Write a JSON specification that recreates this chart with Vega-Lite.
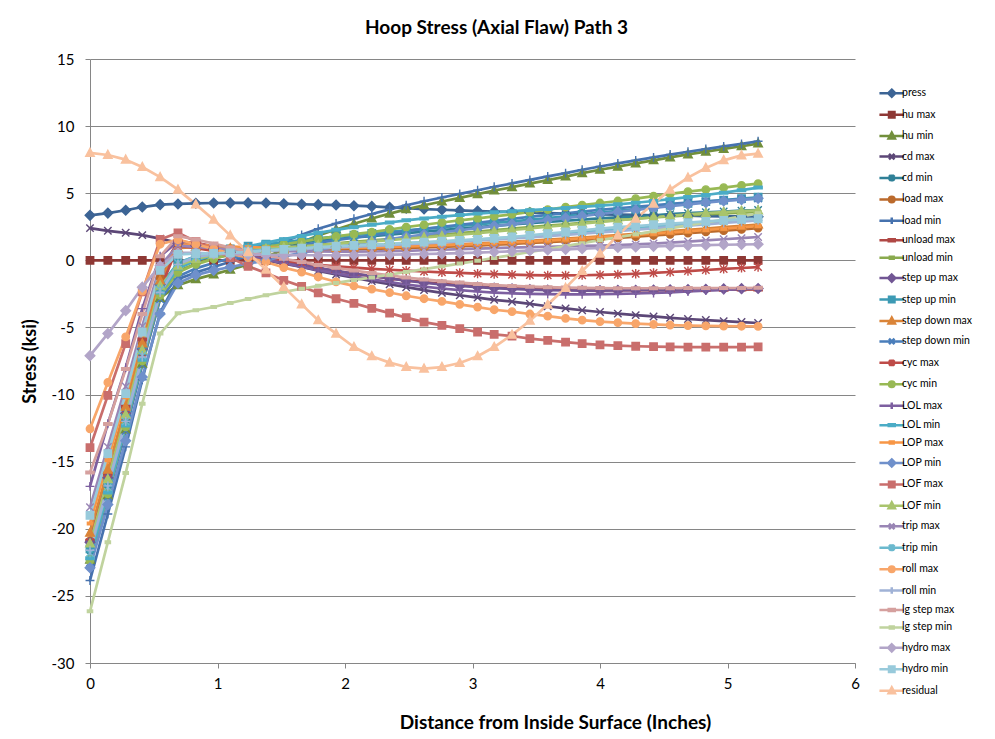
{
  "$schema": "https://vega.github.io/schema/vega-lite/v6.json",
  "width": 765,
  "height": 604,
  "autosize": {"type": "none"},
  "padding": {"left": 90, "top": 59, "right": 140, "bottom": 76},
  "background": "white",
  "config": {"font": "Lato", "view": {"stroke": null}},
  "title": {"text": "Hoop Stress (Axial Flaw) Path 3", "font": "Lato", "fontSize": 19, "fontWeight": "bold", "color": "#000000", "anchor": "middle", "dx": 24, "offset": 14},
  "data": {"values": [
{"s":"press","x":0,"y":3.35},{"s":"press","x":0.14,"y":3.52},{"s":"press","x":0.28,"y":3.73},{"s":"press","x":0.41,"y":3.97},{"s":"press","x":0.55,"y":4.15},{"s":"press","x":0.69,"y":4.2},{"s":"press","x":0.83,"y":4.25},{"s":"press","x":0.97,"y":4.27},{"s":"press","x":1.1,"y":4.28},{"s":"press","x":1.24,"y":4.28},{"s":"press","x":1.38,"y":4.27},{"s":"press","x":1.52,"y":4.22},{"s":"press","x":1.66,"y":4.18},{"s":"press","x":1.79,"y":4.15},{"s":"press","x":1.93,"y":4.12},{"s":"press","x":2.07,"y":4.07},{"s":"press","x":2.21,"y":4.02},{"s":"press","x":2.35,"y":3.95},{"s":"press","x":2.48,"y":3.88},{"s":"press","x":2.62,"y":3.82},{"s":"press","x":2.76,"y":3.77},{"s":"press","x":2.9,"y":3.72},{"s":"press","x":3.04,"y":3.67},{"s":"press","x":3.17,"y":3.63},{"s":"press","x":3.31,"y":3.6},{"s":"press","x":3.45,"y":3.56},{"s":"press","x":3.59,"y":3.52},{"s":"press","x":3.73,"y":3.49},{"s":"press","x":3.86,"y":3.46},{"s":"press","x":4,"y":3.43},{"s":"press","x":4.14,"y":3.4},{"s":"press","x":4.28,"y":3.38},{"s":"press","x":4.42,"y":3.36},{"s":"press","x":4.55,"y":3.34},{"s":"press","x":4.69,"y":3.32},{"s":"press","x":4.83,"y":3.3},{"s":"press","x":4.97,"y":3.28},{"s":"press","x":5.11,"y":3.27},{"s":"press","x":5.24,"y":3.25},
{"s":"hu max","x":0,"y":0},{"s":"hu max","x":0.14,"y":0},{"s":"hu max","x":0.28,"y":0},{"s":"hu max","x":0.41,"y":0},{"s":"hu max","x":0.55,"y":0},{"s":"hu max","x":0.69,"y":0},{"s":"hu max","x":0.83,"y":0},{"s":"hu max","x":0.97,"y":0},{"s":"hu max","x":1.1,"y":0},{"s":"hu max","x":1.24,"y":0},{"s":"hu max","x":1.38,"y":0},{"s":"hu max","x":1.52,"y":0},{"s":"hu max","x":1.66,"y":0},{"s":"hu max","x":1.79,"y":0},{"s":"hu max","x":1.93,"y":0},{"s":"hu max","x":2.07,"y":0},{"s":"hu max","x":2.21,"y":0},{"s":"hu max","x":2.35,"y":0},{"s":"hu max","x":2.48,"y":0},{"s":"hu max","x":2.62,"y":0},{"s":"hu max","x":2.76,"y":0},{"s":"hu max","x":2.9,"y":0},{"s":"hu max","x":3.04,"y":0},{"s":"hu max","x":3.17,"y":0},{"s":"hu max","x":3.31,"y":0},{"s":"hu max","x":3.45,"y":0},{"s":"hu max","x":3.59,"y":0},{"s":"hu max","x":3.73,"y":0},{"s":"hu max","x":3.86,"y":0},{"s":"hu max","x":4,"y":0},{"s":"hu max","x":4.14,"y":0},{"s":"hu max","x":4.28,"y":0},{"s":"hu max","x":4.42,"y":0},{"s":"hu max","x":4.55,"y":0},{"s":"hu max","x":4.69,"y":0},{"s":"hu max","x":4.83,"y":0},{"s":"hu max","x":4.97,"y":0},{"s":"hu max","x":5.11,"y":0},{"s":"hu max","x":5.24,"y":0},
{"s":"hu min","x":0,"y":-22.3},{"s":"hu min","x":0.14,"y":-17.5},{"s":"hu min","x":0.28,"y":-12.6},{"s":"hu min","x":0.41,"y":-7.7},{"s":"hu min","x":0.55,"y":-2.8},{"s":"hu min","x":0.69,"y":-1.85},{"s":"hu min","x":0.83,"y":-1.4},{"s":"hu min","x":0.97,"y":-1.05},{"s":"hu min","x":1.1,"y":-0.7},{"s":"hu min","x":1.24,"y":-0.3},{"s":"hu min","x":1.38,"y":0.25},{"s":"hu min","x":1.52,"y":0.8},{"s":"hu min","x":1.66,"y":1.35},{"s":"hu min","x":1.79,"y":1.85},{"s":"hu min","x":1.93,"y":2.3},{"s":"hu min","x":2.07,"y":2.72},{"s":"hu min","x":2.21,"y":3.12},{"s":"hu min","x":2.35,"y":3.48},{"s":"hu min","x":2.48,"y":3.8},{"s":"hu min","x":2.62,"y":4.1},{"s":"hu min","x":2.76,"y":4.38},{"s":"hu min","x":2.9,"y":4.65},{"s":"hu min","x":3.04,"y":4.93},{"s":"hu min","x":3.17,"y":5.2},{"s":"hu min","x":3.31,"y":5.45},{"s":"hu min","x":3.45,"y":5.72},{"s":"hu min","x":3.59,"y":5.98},{"s":"hu min","x":3.73,"y":6.24},{"s":"hu min","x":3.86,"y":6.5},{"s":"hu min","x":4,"y":6.75},{"s":"hu min","x":4.14,"y":6.98},{"s":"hu min","x":4.28,"y":7.22},{"s":"hu min","x":4.42,"y":7.45},{"s":"hu min","x":4.55,"y":7.67},{"s":"hu min","x":4.69,"y":7.89},{"s":"hu min","x":4.83,"y":8.1},{"s":"hu min","x":4.97,"y":8.3},{"s":"hu min","x":5.11,"y":8.5},{"s":"hu min","x":5.24,"y":8.7},
{"s":"cd max","x":0,"y":2.4},{"s":"cd max","x":0.14,"y":2.2},{"s":"cd max","x":0.28,"y":2.05},{"s":"cd max","x":0.41,"y":1.88},{"s":"cd max","x":0.55,"y":1.62},{"s":"cd max","x":0.69,"y":1.3},{"s":"cd max","x":0.83,"y":1.0},{"s":"cd max","x":0.97,"y":0.75},{"s":"cd max","x":1.1,"y":0.5},{"s":"cd max","x":1.24,"y":0.25},{"s":"cd max","x":1.38,"y":0},{"s":"cd max","x":1.52,"y":-0.25},{"s":"cd max","x":1.66,"y":-0.5},{"s":"cd max","x":1.79,"y":-0.78},{"s":"cd max","x":1.93,"y":-1.05},{"s":"cd max","x":2.07,"y":-1.3},{"s":"cd max","x":2.21,"y":-1.55},{"s":"cd max","x":2.35,"y":-1.78},{"s":"cd max","x":2.48,"y":-2.0},{"s":"cd max","x":2.62,"y":-2.22},{"s":"cd max","x":2.76,"y":-2.42},{"s":"cd max","x":2.9,"y":-2.6},{"s":"cd max","x":3.04,"y":-2.78},{"s":"cd max","x":3.17,"y":-2.94},{"s":"cd max","x":3.31,"y":-3.08},{"s":"cd max","x":3.45,"y":-3.24},{"s":"cd max","x":3.59,"y":-3.42},{"s":"cd max","x":3.73,"y":-3.58},{"s":"cd max","x":3.86,"y":-3.72},{"s":"cd max","x":4,"y":-3.85},{"s":"cd max","x":4.14,"y":-3.97},{"s":"cd max","x":4.28,"y":-4.08},{"s":"cd max","x":4.42,"y":-4.18},{"s":"cd max","x":4.55,"y":-4.28},{"s":"cd max","x":4.69,"y":-4.37},{"s":"cd max","x":4.83,"y":-4.45},{"s":"cd max","x":4.97,"y":-4.53},{"s":"cd max","x":5.11,"y":-4.6},{"s":"cd max","x":5.24,"y":-4.67},
{"s":"cd min","x":0,"y":-22.0},{"s":"cd min","x":0.14,"y":-17.1},{"s":"cd min","x":0.28,"y":-12.2},{"s":"cd min","x":0.41,"y":-7.3},{"s":"cd min","x":0.55,"y":-2.4},{"s":"cd min","x":0.69,"y":-0.6},{"s":"cd min","x":0.83,"y":0},{"s":"cd min","x":0.97,"y":0.35},{"s":"cd min","x":1.1,"y":0.62},{"s":"cd min","x":1.24,"y":0.85},{"s":"cd min","x":1.38,"y":1.03},{"s":"cd min","x":1.52,"y":1.19},{"s":"cd min","x":1.66,"y":1.33},{"s":"cd min","x":1.79,"y":1.46},{"s":"cd min","x":1.93,"y":1.58},{"s":"cd min","x":2.07,"y":1.7},{"s":"cd min","x":2.21,"y":1.81},{"s":"cd min","x":2.35,"y":1.92},{"s":"cd min","x":2.48,"y":2.03},{"s":"cd min","x":2.62,"y":2.14},{"s":"cd min","x":2.76,"y":2.25},{"s":"cd min","x":2.9,"y":2.36},{"s":"cd min","x":3.04,"y":2.47},{"s":"cd min","x":3.17,"y":2.57},{"s":"cd min","x":3.31,"y":2.67},{"s":"cd min","x":3.45,"y":2.77},{"s":"cd min","x":3.59,"y":2.86},{"s":"cd min","x":3.73,"y":2.95},{"s":"cd min","x":3.86,"y":3.04},{"s":"cd min","x":4,"y":3.12},{"s":"cd min","x":4.14,"y":3.2},{"s":"cd min","x":4.28,"y":3.28},{"s":"cd min","x":4.42,"y":3.36},{"s":"cd min","x":4.55,"y":3.44},{"s":"cd min","x":4.69,"y":3.51},{"s":"cd min","x":4.83,"y":3.58},{"s":"cd min","x":4.97,"y":3.64},{"s":"cd min","x":5.11,"y":3.7},{"s":"cd min","x":5.24,"y":3.75},
{"s":"load max","x":0,"y":-20.9},{"s":"load max","x":0.14,"y":-16.0},{"s":"load max","x":0.28,"y":-11.1},{"s":"load max","x":0.41,"y":-6.2},{"s":"load max","x":0.55,"y":-1.3},{"s":"load max","x":0.69,"y":1.3},{"s":"load max","x":0.83,"y":1.1},{"s":"load max","x":0.97,"y":0.95},{"s":"load max","x":1.1,"y":0.85},{"s":"load max","x":1.24,"y":0.8},{"s":"load max","x":1.38,"y":0.78},{"s":"load max","x":1.52,"y":0.77},{"s":"load max","x":1.66,"y":0.77},{"s":"load max","x":1.79,"y":0.78},{"s":"load max","x":1.93,"y":0.8},{"s":"load max","x":2.07,"y":0.82},{"s":"load max","x":2.21,"y":0.85},{"s":"load max","x":2.35,"y":0.88},{"s":"load max","x":2.48,"y":0.92},{"s":"load max","x":2.62,"y":0.96},{"s":"load max","x":2.76,"y":1.0},{"s":"load max","x":2.9,"y":1.05},{"s":"load max","x":3.04,"y":1.1},{"s":"load max","x":3.17,"y":1.16},{"s":"load max","x":3.31,"y":1.22},{"s":"load max","x":3.45,"y":1.29},{"s":"load max","x":3.59,"y":1.36},{"s":"load max","x":3.73,"y":1.43},{"s":"load max","x":3.86,"y":1.51},{"s":"load max","x":4,"y":1.59},{"s":"load max","x":4.14,"y":1.67},{"s":"load max","x":4.28,"y":1.76},{"s":"load max","x":4.42,"y":1.85},{"s":"load max","x":4.55,"y":1.94},{"s":"load max","x":4.69,"y":2.03},{"s":"load max","x":4.83,"y":2.12},{"s":"load max","x":4.97,"y":2.21},{"s":"load max","x":5.11,"y":2.3},{"s":"load max","x":5.24,"y":2.4},
{"s":"load min","x":0,"y":-23.85},{"s":"load min","x":0.14,"y":-18.9},{"s":"load min","x":0.28,"y":-13.9},{"s":"load min","x":0.41,"y":-8.9},{"s":"load min","x":0.55,"y":-3.9},{"s":"load min","x":0.69,"y":-1.4},{"s":"load min","x":0.83,"y":-0.9},{"s":"load min","x":0.97,"y":-0.5},{"s":"load min","x":1.1,"y":-0.1},{"s":"load min","x":1.24,"y":0.35},{"s":"load min","x":1.38,"y":0.85},{"s":"load min","x":1.52,"y":1.38},{"s":"load min","x":1.66,"y":1.9},{"s":"load min","x":1.79,"y":2.35},{"s":"load min","x":1.93,"y":2.75},{"s":"load min","x":2.07,"y":3.1},{"s":"load min","x":2.21,"y":3.45},{"s":"load min","x":2.35,"y":3.8},{"s":"load min","x":2.48,"y":4.1},{"s":"load min","x":2.62,"y":4.4},{"s":"load min","x":2.76,"y":4.68},{"s":"load min","x":2.9,"y":4.95},{"s":"load min","x":3.04,"y":5.22},{"s":"load min","x":3.17,"y":5.48},{"s":"load min","x":3.31,"y":5.73},{"s":"load min","x":3.45,"y":5.99},{"s":"load min","x":3.59,"y":6.25},{"s":"load min","x":3.73,"y":6.5},{"s":"load min","x":3.86,"y":6.75},{"s":"load min","x":4,"y":6.99},{"s":"load min","x":4.14,"y":7.22},{"s":"load min","x":4.28,"y":7.45},{"s":"load min","x":4.42,"y":7.67},{"s":"load min","x":4.55,"y":7.88},{"s":"load min","x":4.69,"y":8.09},{"s":"load min","x":4.83,"y":8.29},{"s":"load min","x":4.97,"y":8.49},{"s":"load min","x":5.11,"y":8.68},{"s":"load min","x":5.24,"y":8.87},
{"s":"unload max","x":0,"y":-20.9},{"s":"unload max","x":0.14,"y":-15.9},{"s":"unload max","x":0.28,"y":-10.9},{"s":"unload max","x":0.41,"y":-5.9},{"s":"unload max","x":0.55,"y":-0.9},{"s":"unload max","x":0.69,"y":1.4},{"s":"unload max","x":0.83,"y":1.3},{"s":"unload max","x":0.97,"y":1.05},{"s":"unload max","x":1.1,"y":0.75},{"s":"unload max","x":1.24,"y":0.45},{"s":"unload max","x":1.38,"y":0.17},{"s":"unload max","x":1.52,"y":-0.1},{"s":"unload max","x":1.66,"y":-0.35},{"s":"unload max","x":1.79,"y":-0.58},{"s":"unload max","x":1.93,"y":-0.8},{"s":"unload max","x":2.07,"y":-1.0},{"s":"unload max","x":2.21,"y":-1.18},{"s":"unload max","x":2.35,"y":-1.35},{"s":"unload max","x":2.48,"y":-1.5},{"s":"unload max","x":2.62,"y":-1.63},{"s":"unload max","x":2.76,"y":-1.75},{"s":"unload max","x":2.9,"y":-1.85},{"s":"unload max","x":3.04,"y":-1.94},{"s":"unload max","x":3.17,"y":-2.01},{"s":"unload max","x":3.31,"y":-2.07},{"s":"unload max","x":3.45,"y":-2.12},{"s":"unload max","x":3.59,"y":-2.16},{"s":"unload max","x":3.73,"y":-2.19},{"s":"unload max","x":3.86,"y":-2.21},{"s":"unload max","x":4,"y":-2.22},{"s":"unload max","x":4.14,"y":-2.23},{"s":"unload max","x":4.28,"y":-2.23},{"s":"unload max","x":4.42,"y":-2.23},{"s":"unload max","x":4.55,"y":-2.22},{"s":"unload max","x":4.69,"y":-2.21},{"s":"unload max","x":4.83,"y":-2.2},{"s":"unload max","x":4.97,"y":-2.19},{"s":"unload max","x":5.11,"y":-2.18},{"s":"unload max","x":5.24,"y":-2.17},
{"s":"unload min","x":0,"y":-22.1},{"s":"unload min","x":0.14,"y":-17.2},{"s":"unload min","x":0.28,"y":-12.3},{"s":"unload min","x":0.41,"y":-7.4},{"s":"unload min","x":0.55,"y":-2.5},{"s":"unload min","x":0.69,"y":-0.8},{"s":"unload min","x":0.83,"y":-0.25},{"s":"unload min","x":0.97,"y":0.15},{"s":"unload min","x":1.1,"y":0.42},{"s":"unload min","x":1.24,"y":0.62},{"s":"unload min","x":1.38,"y":0.78},{"s":"unload min","x":1.52,"y":0.92},{"s":"unload min","x":1.66,"y":1.04},{"s":"unload min","x":1.79,"y":1.15},{"s":"unload min","x":1.93,"y":1.26},{"s":"unload min","x":2.07,"y":1.37},{"s":"unload min","x":2.21,"y":1.48},{"s":"unload min","x":2.35,"y":1.59},{"s":"unload min","x":2.48,"y":1.7},{"s":"unload min","x":2.62,"y":1.81},{"s":"unload min","x":2.76,"y":1.92},{"s":"unload min","x":2.9,"y":2.03},{"s":"unload min","x":3.04,"y":2.14},{"s":"unload min","x":3.17,"y":2.25},{"s":"unload min","x":3.31,"y":2.36},{"s":"unload min","x":3.45,"y":2.47},{"s":"unload min","x":3.59,"y":2.58},{"s":"unload min","x":3.73,"y":2.69},{"s":"unload min","x":3.86,"y":2.8},{"s":"unload min","x":4,"y":2.9},{"s":"unload min","x":4.14,"y":3.0},{"s":"unload min","x":4.28,"y":3.1},{"s":"unload min","x":4.42,"y":3.19},{"s":"unload min","x":4.55,"y":3.27},{"s":"unload min","x":4.69,"y":3.35},{"s":"unload min","x":4.83,"y":3.42},{"s":"unload min","x":4.97,"y":3.49},{"s":"unload min","x":5.11,"y":3.55},{"s":"unload min","x":5.24,"y":3.6},
{"s":"step up max","x":0,"y":-21.0},{"s":"step up max","x":0.14,"y":-16.2},{"s":"step up max","x":0.28,"y":-11.4},{"s":"step up max","x":0.41,"y":-6.6},{"s":"step up max","x":0.55,"y":-1.8},{"s":"step up max","x":0.69,"y":1.25},{"s":"step up max","x":0.83,"y":1.1},{"s":"step up max","x":0.97,"y":0.85},{"s":"step up max","x":1.1,"y":0.6},{"s":"step up max","x":1.24,"y":0.35},{"s":"step up max","x":1.38,"y":0.1},{"s":"step up max","x":1.52,"y":-0.12},{"s":"step up max","x":1.66,"y":-0.35},{"s":"step up max","x":1.79,"y":-0.57},{"s":"step up max","x":1.93,"y":-0.78},{"s":"step up max","x":2.07,"y":-0.98},{"s":"step up max","x":2.21,"y":-1.17},{"s":"step up max","x":2.35,"y":-1.35},{"s":"step up max","x":2.48,"y":-1.52},{"s":"step up max","x":2.62,"y":-1.67},{"s":"step up max","x":2.76,"y":-1.8},{"s":"step up max","x":2.9,"y":-1.91},{"s":"step up max","x":3.04,"y":-2.0},{"s":"step up max","x":3.17,"y":-2.07},{"s":"step up max","x":3.31,"y":-2.13},{"s":"step up max","x":3.45,"y":-2.18},{"s":"step up max","x":3.59,"y":-2.22},{"s":"step up max","x":3.73,"y":-2.24},{"s":"step up max","x":3.86,"y":-2.25},{"s":"step up max","x":4,"y":-2.25},{"s":"step up max","x":4.14,"y":-2.24},{"s":"step up max","x":4.28,"y":-2.23},{"s":"step up max","x":4.42,"y":-2.21},{"s":"step up max","x":4.55,"y":-2.19},{"s":"step up max","x":4.69,"y":-2.17},{"s":"step up max","x":4.83,"y":-2.15},{"s":"step up max","x":4.97,"y":-2.13},{"s":"step up max","x":5.11,"y":-2.11},{"s":"step up max","x":5.24,"y":-2.1},
{"s":"step up min","x":0,"y":-21.5},{"s":"step up min","x":0.14,"y":-16.6},{"s":"step up min","x":0.28,"y":-11.7},{"s":"step up min","x":0.41,"y":-6.8},{"s":"step up min","x":0.55,"y":-1.9},{"s":"step up min","x":0.69,"y":-0.2},{"s":"step up min","x":0.83,"y":0.3},{"s":"step up min","x":0.97,"y":0.6},{"s":"step up min","x":1.1,"y":0.85},{"s":"step up min","x":1.24,"y":1.05},{"s":"step up min","x":1.38,"y":1.2},{"s":"step up min","x":1.52,"y":1.35},{"s":"step up min","x":1.66,"y":1.5},{"s":"step up min","x":1.79,"y":1.63},{"s":"step up min","x":1.93,"y":1.76},{"s":"step up min","x":2.07,"y":1.88},{"s":"step up min","x":2.21,"y":2.0},{"s":"step up min","x":2.35,"y":2.12},{"s":"step up min","x":2.48,"y":2.23},{"s":"step up min","x":2.62,"y":2.35},{"s":"step up min","x":2.76,"y":2.46},{"s":"step up min","x":2.9,"y":2.57},{"s":"step up min","x":3.04,"y":2.68},{"s":"step up min","x":3.17,"y":2.79},{"s":"step up min","x":3.31,"y":2.9},{"s":"step up min","x":3.45,"y":3.02},{"s":"step up min","x":3.59,"y":3.15},{"s":"step up min","x":3.73,"y":3.28},{"s":"step up min","x":3.86,"y":3.42},{"s":"step up min","x":4,"y":3.55},{"s":"step up min","x":4.14,"y":3.68},{"s":"step up min","x":4.28,"y":3.82},{"s":"step up min","x":4.42,"y":3.96},{"s":"step up min","x":4.55,"y":4.1},{"s":"step up min","x":4.69,"y":4.24},{"s":"step up min","x":4.83,"y":4.37},{"s":"step up min","x":4.97,"y":4.49},{"s":"step up min","x":5.11,"y":4.6},{"s":"step up min","x":5.24,"y":4.7},
{"s":"step down max","x":0,"y":-20.3},{"s":"step down max","x":0.14,"y":-15.6},{"s":"step down max","x":0.28,"y":-10.9},{"s":"step down max","x":0.41,"y":-6.2},{"s":"step down max","x":0.55,"y":-1.5},{"s":"step down max","x":0.69,"y":0.9},{"s":"step down max","x":0.83,"y":1.0},{"s":"step down max","x":0.97,"y":0.95},{"s":"step down max","x":1.1,"y":0.9},{"s":"step down max","x":1.24,"y":0.88},{"s":"step down max","x":1.38,"y":0.87},{"s":"step down max","x":1.52,"y":0.87},{"s":"step down max","x":1.66,"y":0.88},{"s":"step down max","x":1.79,"y":0.9},{"s":"step down max","x":1.93,"y":0.92},{"s":"step down max","x":2.07,"y":0.95},{"s":"step down max","x":2.21,"y":0.98},{"s":"step down max","x":2.35,"y":1.02},{"s":"step down max","x":2.48,"y":1.06},{"s":"step down max","x":2.62,"y":1.1},{"s":"step down max","x":2.76,"y":1.15},{"s":"step down max","x":2.9,"y":1.2},{"s":"step down max","x":3.04,"y":1.26},{"s":"step down max","x":3.17,"y":1.32},{"s":"step down max","x":3.31,"y":1.39},{"s":"step down max","x":3.45,"y":1.46},{"s":"step down max","x":3.59,"y":1.54},{"s":"step down max","x":3.73,"y":1.62},{"s":"step down max","x":3.86,"y":1.7},{"s":"step down max","x":4,"y":1.79},{"s":"step down max","x":4.14,"y":1.88},{"s":"step down max","x":4.28,"y":1.97},{"s":"step down max","x":4.42,"y":2.07},{"s":"step down max","x":4.55,"y":2.17},{"s":"step down max","x":4.69,"y":2.27},{"s":"step down max","x":4.83,"y":2.37},{"s":"step down max","x":4.97,"y":2.47},{"s":"step down max","x":5.11,"y":2.57},{"s":"step down max","x":5.24,"y":2.67},
{"s":"step down min","x":0,"y":-22.5},{"s":"step down min","x":0.14,"y":-17.6},{"s":"step down min","x":0.28,"y":-12.7},{"s":"step down min","x":0.41,"y":-7.8},{"s":"step down min","x":0.55,"y":-2.9},{"s":"step down min","x":0.69,"y":-1.2},{"s":"step down min","x":0.83,"y":-0.6},{"s":"step down min","x":0.97,"y":-0.2},{"s":"step down min","x":1.1,"y":0.15},{"s":"step down min","x":1.24,"y":0.45},{"s":"step down min","x":1.38,"y":0.7},{"s":"step down min","x":1.52,"y":0.92},{"s":"step down min","x":1.66,"y":1.12},{"s":"step down min","x":1.79,"y":1.32},{"s":"step down min","x":1.93,"y":1.5},{"s":"step down min","x":2.07,"y":1.68},{"s":"step down min","x":2.21,"y":1.85},{"s":"step down min","x":2.35,"y":2.02},{"s":"step down min","x":2.48,"y":2.18},{"s":"step down min","x":2.62,"y":2.34},{"s":"step down min","x":2.76,"y":2.5},{"s":"step down min","x":2.9,"y":2.65},{"s":"step down min","x":3.04,"y":2.8},{"s":"step down min","x":3.17,"y":2.95},{"s":"step down min","x":3.31,"y":3.1},{"s":"step down min","x":3.45,"y":3.24},{"s":"step down min","x":3.59,"y":3.38},{"s":"step down min","x":3.73,"y":3.51},{"s":"step down min","x":3.86,"y":3.64},{"s":"step down min","x":4,"y":3.76},{"s":"step down min","x":4.14,"y":3.88},{"s":"step down min","x":4.28,"y":3.99},{"s":"step down min","x":4.42,"y":4.1},{"s":"step down min","x":4.55,"y":4.2},{"s":"step down min","x":4.69,"y":4.3},{"s":"step down min","x":4.83,"y":4.39},{"s":"step down min","x":4.97,"y":4.47},{"s":"step down min","x":5.11,"y":4.54},{"s":"step down min","x":5.24,"y":4.6},
{"s":"cyc max","x":0,"y":-21.0},{"s":"cyc max","x":0.14,"y":-16.3},{"s":"cyc max","x":0.28,"y":-11.6},{"s":"cyc max","x":0.41,"y":-6.9},{"s":"cyc max","x":0.55,"y":-2.2},{"s":"cyc max","x":0.69,"y":1.1},{"s":"cyc max","x":0.83,"y":0.9},{"s":"cyc max","x":0.97,"y":0.7},{"s":"cyc max","x":1.1,"y":0.5},{"s":"cyc max","x":1.24,"y":0.3},{"s":"cyc max","x":1.38,"y":0.12},{"s":"cyc max","x":1.52,"y":-0.05},{"s":"cyc max","x":1.66,"y":-0.2},{"s":"cyc max","x":1.79,"y":-0.33},{"s":"cyc max","x":1.93,"y":-0.45},{"s":"cyc max","x":2.07,"y":-0.55},{"s":"cyc max","x":2.21,"y":-0.63},{"s":"cyc max","x":2.35,"y":-0.7},{"s":"cyc max","x":2.48,"y":-0.77},{"s":"cyc max","x":2.62,"y":-0.83},{"s":"cyc max","x":2.76,"y":-0.89},{"s":"cyc max","x":2.9,"y":-0.94},{"s":"cyc max","x":3.04,"y":-0.99},{"s":"cyc max","x":3.17,"y":-1.03},{"s":"cyc max","x":3.31,"y":-1.07},{"s":"cyc max","x":3.45,"y":-1.1},{"s":"cyc max","x":3.59,"y":-1.12},{"s":"cyc max","x":3.73,"y":-1.12},{"s":"cyc max","x":3.86,"y":-1.11},{"s":"cyc max","x":4,"y":-1.09},{"s":"cyc max","x":4.14,"y":-1.05},{"s":"cyc max","x":4.28,"y":-1.0},{"s":"cyc max","x":4.42,"y":-0.94},{"s":"cyc max","x":4.55,"y":-0.87},{"s":"cyc max","x":4.69,"y":-0.8},{"s":"cyc max","x":4.83,"y":-0.72},{"s":"cyc max","x":4.97,"y":-0.64},{"s":"cyc max","x":5.11,"y":-0.57},{"s":"cyc max","x":5.24,"y":-0.5},
{"s":"cyc min","x":0,"y":-22.35},{"s":"cyc min","x":0.14,"y":-17.4},{"s":"cyc min","x":0.28,"y":-12.4},{"s":"cyc min","x":0.41,"y":-7.5},{"s":"cyc min","x":0.55,"y":-2.6},{"s":"cyc min","x":0.69,"y":-0.9},{"s":"cyc min","x":0.83,"y":-0.3},{"s":"cyc min","x":0.97,"y":0.1},{"s":"cyc min","x":1.1,"y":0.45},{"s":"cyc min","x":1.24,"y":0.75},{"s":"cyc min","x":1.38,"y":1.0},{"s":"cyc min","x":1.52,"y":1.2},{"s":"cyc min","x":1.66,"y":1.4},{"s":"cyc min","x":1.79,"y":1.6},{"s":"cyc min","x":1.93,"y":1.78},{"s":"cyc min","x":2.07,"y":1.95},{"s":"cyc min","x":2.21,"y":2.1},{"s":"cyc min","x":2.35,"y":2.3},{"s":"cyc min","x":2.48,"y":2.48},{"s":"cyc min","x":2.62,"y":2.65},{"s":"cyc min","x":2.76,"y":2.82},{"s":"cyc min","x":2.9,"y":2.98},{"s":"cyc min","x":3.04,"y":3.12},{"s":"cyc min","x":3.17,"y":3.28},{"s":"cyc min","x":3.31,"y":3.42},{"s":"cyc min","x":3.45,"y":3.6},{"s":"cyc min","x":3.59,"y":3.78},{"s":"cyc min","x":3.73,"y":3.96},{"s":"cyc min","x":3.86,"y":4.12},{"s":"cyc min","x":4,"y":4.27},{"s":"cyc min","x":4.14,"y":4.42},{"s":"cyc min","x":4.28,"y":4.6},{"s":"cyc min","x":4.42,"y":4.78},{"s":"cyc min","x":4.55,"y":4.95},{"s":"cyc min","x":4.69,"y":5.12},{"s":"cyc min","x":4.83,"y":5.27},{"s":"cyc min","x":4.97,"y":5.42},{"s":"cyc min","x":5.11,"y":5.58},{"s":"cyc min","x":5.24,"y":5.71},
{"s":"LOL max","x":0,"y":-16.84},{"s":"LOL max","x":0.14,"y":-12.17},{"s":"LOL max","x":0.28,"y":-8.0},{"s":"LOL max","x":0.41,"y":-3.6},{"s":"LOL max","x":0.55,"y":0.3},{"s":"LOL max","x":0.69,"y":1.4},{"s":"LOL max","x":0.83,"y":1.15},{"s":"LOL max","x":0.97,"y":0.88},{"s":"LOL max","x":1.1,"y":0.6},{"s":"LOL max","x":1.24,"y":0.32},{"s":"LOL max","x":1.38,"y":0.05},{"s":"LOL max","x":1.52,"y":-0.22},{"s":"LOL max","x":1.66,"y":-0.48},{"s":"LOL max","x":1.79,"y":-0.73},{"s":"LOL max","x":1.93,"y":-0.97},{"s":"LOL max","x":2.07,"y":-1.2},{"s":"LOL max","x":2.21,"y":-1.42},{"s":"LOL max","x":2.35,"y":-1.62},{"s":"LOL max","x":2.48,"y":-1.8},{"s":"LOL max","x":2.62,"y":-1.96},{"s":"LOL max","x":2.76,"y":-2.1},{"s":"LOL max","x":2.9,"y":-2.22},{"s":"LOL max","x":3.04,"y":-2.32},{"s":"LOL max","x":3.17,"y":-2.4},{"s":"LOL max","x":3.31,"y":-2.46},{"s":"LOL max","x":3.45,"y":-2.5},{"s":"LOL max","x":3.59,"y":-2.52},{"s":"LOL max","x":3.73,"y":-2.53},{"s":"LOL max","x":3.86,"y":-2.53},{"s":"LOL max","x":4,"y":-2.52},{"s":"LOL max","x":4.14,"y":-2.5},{"s":"LOL max","x":4.28,"y":-2.47},{"s":"LOL max","x":4.42,"y":-2.43},{"s":"LOL max","x":4.55,"y":-2.38},{"s":"LOL max","x":4.69,"y":-2.32},{"s":"LOL max","x":4.83,"y":-2.26},{"s":"LOL max","x":4.97,"y":-2.2},{"s":"LOL max","x":5.11,"y":-2.15},{"s":"LOL max","x":5.24,"y":-2.1},
{"s":"LOL min","x":0,"y":-22.2},{"s":"LOL min","x":0.14,"y":-17.3},{"s":"LOL min","x":0.28,"y":-12.3},{"s":"LOL min","x":0.41,"y":-7.4},{"s":"LOL min","x":0.55,"y":-2.4},{"s":"LOL min","x":0.69,"y":-0.6},{"s":"LOL min","x":0.83,"y":0},{"s":"LOL min","x":0.97,"y":0.4},{"s":"LOL min","x":1.1,"y":0.75},{"s":"LOL min","x":1.24,"y":1.05},{"s":"LOL min","x":1.38,"y":1.32},{"s":"LOL min","x":1.52,"y":1.58},{"s":"LOL min","x":1.66,"y":1.82},{"s":"LOL min","x":1.79,"y":2.05},{"s":"LOL min","x":1.93,"y":2.27},{"s":"LOL min","x":2.07,"y":2.47},{"s":"LOL min","x":2.21,"y":2.65},{"s":"LOL min","x":2.35,"y":2.82},{"s":"LOL min","x":2.48,"y":2.98},{"s":"LOL min","x":2.62,"y":3.12},{"s":"LOL min","x":2.76,"y":3.25},{"s":"LOL min","x":2.9,"y":3.37},{"s":"LOL min","x":3.04,"y":3.48},{"s":"LOL min","x":3.17,"y":3.58},{"s":"LOL min","x":3.31,"y":3.66},{"s":"LOL min","x":3.45,"y":3.74},{"s":"LOL min","x":3.59,"y":3.82},{"s":"LOL min","x":3.73,"y":3.9},{"s":"LOL min","x":3.86,"y":3.98},{"s":"LOL min","x":4,"y":4.07},{"s":"LOL min","x":4.14,"y":4.17},{"s":"LOL min","x":4.28,"y":4.29},{"s":"LOL min","x":4.42,"y":4.42},{"s":"LOL min","x":4.55,"y":4.56},{"s":"LOL min","x":4.69,"y":4.71},{"s":"LOL min","x":4.83,"y":4.87},{"s":"LOL min","x":4.97,"y":5.04},{"s":"LOL min","x":5.11,"y":5.23},{"s":"LOL min","x":5.24,"y":5.42},
{"s":"LOP max","x":0,"y":-19.6},{"s":"LOP max","x":0.14,"y":-14.9},{"s":"LOP max","x":0.28,"y":-10.2},{"s":"LOP max","x":0.41,"y":-5.5},{"s":"LOP max","x":0.55,"y":-0.8},{"s":"LOP max","x":0.69,"y":1.2},{"s":"LOP max","x":0.83,"y":1.15},{"s":"LOP max","x":0.97,"y":1.08},{"s":"LOP max","x":1.1,"y":1.02},{"s":"LOP max","x":1.24,"y":0.98},{"s":"LOP max","x":1.38,"y":0.95},{"s":"LOP max","x":1.52,"y":0.93},{"s":"LOP max","x":1.66,"y":0.92},{"s":"LOP max","x":1.79,"y":0.92},{"s":"LOP max","x":1.93,"y":0.93},{"s":"LOP max","x":2.07,"y":0.95},{"s":"LOP max","x":2.21,"y":0.97},{"s":"LOP max","x":2.35,"y":1.0},{"s":"LOP max","x":2.48,"y":1.03},{"s":"LOP max","x":2.62,"y":1.07},{"s":"LOP max","x":2.76,"y":1.11},{"s":"LOP max","x":2.9,"y":1.16},{"s":"LOP max","x":3.04,"y":1.21},{"s":"LOP max","x":3.17,"y":1.27},{"s":"LOP max","x":3.31,"y":1.33},{"s":"LOP max","x":3.45,"y":1.4},{"s":"LOP max","x":3.59,"y":1.47},{"s":"LOP max","x":3.73,"y":1.55},{"s":"LOP max","x":3.86,"y":1.63},{"s":"LOP max","x":4,"y":1.71},{"s":"LOP max","x":4.14,"y":1.8},{"s":"LOP max","x":4.28,"y":1.89},{"s":"LOP max","x":4.42,"y":1.98},{"s":"LOP max","x":4.55,"y":2.07},{"s":"LOP max","x":4.69,"y":2.16},{"s":"LOP max","x":4.83,"y":2.26},{"s":"LOP max","x":4.97,"y":2.36},{"s":"LOP max","x":5.11,"y":2.46},{"s":"LOP max","x":5.24,"y":2.56},
{"s":"LOP min","x":0,"y":-22.9},{"s":"LOP min","x":0.14,"y":-18.2},{"s":"LOP min","x":0.28,"y":-13.45},{"s":"LOP min","x":0.41,"y":-8.7},{"s":"LOP min","x":0.55,"y":-4.0},{"s":"LOP min","x":0.69,"y":-1.7},{"s":"LOP min","x":0.83,"y":-1.1},{"s":"LOP min","x":0.97,"y":-0.75},{"s":"LOP min","x":1.1,"y":-0.5},{"s":"LOP min","x":1.24,"y":-0.25},{"s":"LOP min","x":1.38,"y":0},{"s":"LOP min","x":1.52,"y":0.3},{"s":"LOP min","x":1.66,"y":0.55},{"s":"LOP min","x":1.79,"y":0.78},{"s":"LOP min","x":1.93,"y":1.0},{"s":"LOP min","x":2.07,"y":1.2},{"s":"LOP min","x":2.21,"y":1.4},{"s":"LOP min","x":2.35,"y":1.58},{"s":"LOP min","x":2.48,"y":1.75},{"s":"LOP min","x":2.62,"y":1.92},{"s":"LOP min","x":2.76,"y":2.08},{"s":"LOP min","x":2.9,"y":2.24},{"s":"LOP min","x":3.04,"y":2.4},{"s":"LOP min","x":3.17,"y":2.55},{"s":"LOP min","x":3.31,"y":2.7},{"s":"LOP min","x":3.45,"y":2.85},{"s":"LOP min","x":3.59,"y":3.0},{"s":"LOP min","x":3.73,"y":3.15},{"s":"LOP min","x":3.86,"y":3.3},{"s":"LOP min","x":4,"y":3.45},{"s":"LOP min","x":4.14,"y":3.6},{"s":"LOP min","x":4.28,"y":3.75},{"s":"LOP min","x":4.42,"y":3.9},{"s":"LOP min","x":4.55,"y":4.04},{"s":"LOP min","x":4.69,"y":4.17},{"s":"LOP min","x":4.83,"y":4.3},{"s":"LOP min","x":4.97,"y":4.42},{"s":"LOP min","x":5.11,"y":4.52},{"s":"LOP min","x":5.24,"y":4.62},
{"s":"LOF max","x":0,"y":-13.96},{"s":"LOF max","x":0.14,"y":-10.06},{"s":"LOF max","x":0.28,"y":-6.2},{"s":"LOF max","x":0.41,"y":-2.35},{"s":"LOF max","x":0.55,"y":1.55},{"s":"LOF max","x":0.69,"y":2.05},{"s":"LOF max","x":0.83,"y":1.4},{"s":"LOF max","x":0.97,"y":0.8},{"s":"LOF max","x":1.1,"y":0.2},{"s":"LOF max","x":1.24,"y":-0.45},{"s":"LOF max","x":1.38,"y":-0.94},{"s":"LOF max","x":1.52,"y":-1.49},{"s":"LOF max","x":1.66,"y":-1.94},{"s":"LOF max","x":1.79,"y":-2.43},{"s":"LOF max","x":1.93,"y":-2.86},{"s":"LOF max","x":2.07,"y":-3.2},{"s":"LOF max","x":2.21,"y":-3.58},{"s":"LOF max","x":2.35,"y":-3.93},{"s":"LOF max","x":2.48,"y":-4.27},{"s":"LOF max","x":2.62,"y":-4.6},{"s":"LOF max","x":2.76,"y":-4.84},{"s":"LOF max","x":2.9,"y":-5.09},{"s":"LOF max","x":3.04,"y":-5.34},{"s":"LOF max","x":3.17,"y":-5.51},{"s":"LOF max","x":3.31,"y":-5.64},{"s":"LOF max","x":3.45,"y":-5.83},{"s":"LOF max","x":3.59,"y":-5.96},{"s":"LOF max","x":3.73,"y":-6.1},{"s":"LOF max","x":3.86,"y":-6.2},{"s":"LOF max","x":4,"y":-6.3},{"s":"LOF max","x":4.14,"y":-6.36},{"s":"LOF max","x":4.28,"y":-6.4},{"s":"LOF max","x":4.42,"y":-6.43},{"s":"LOF max","x":4.55,"y":-6.45},{"s":"LOF max","x":4.69,"y":-6.46},{"s":"LOF max","x":4.83,"y":-6.46},{"s":"LOF max","x":4.97,"y":-6.46},{"s":"LOF max","x":5.11,"y":-6.46},{"s":"LOF max","x":5.24,"y":-6.45},
{"s":"LOF min","x":0,"y":-21.1},{"s":"LOF min","x":0.14,"y":-16.3},{"s":"LOF min","x":0.28,"y":-11.5},{"s":"LOF min","x":0.41,"y":-6.7},{"s":"LOF min","x":0.55,"y":-1.9},{"s":"LOF min","x":0.69,"y":-0.4},{"s":"LOF min","x":0.83,"y":0.1},{"s":"LOF min","x":0.97,"y":0.4},{"s":"LOF min","x":1.1,"y":0.6},{"s":"LOF min","x":1.24,"y":0.74},{"s":"LOF min","x":1.38,"y":0.85},{"s":"LOF min","x":1.52,"y":0.95},{"s":"LOF min","x":1.66,"y":1.04},{"s":"LOF min","x":1.79,"y":1.13},{"s":"LOF min","x":1.93,"y":1.22},{"s":"LOF min","x":2.07,"y":1.31},{"s":"LOF min","x":2.21,"y":1.41},{"s":"LOF min","x":2.35,"y":1.51},{"s":"LOF min","x":2.48,"y":1.61},{"s":"LOF min","x":2.62,"y":1.71},{"s":"LOF min","x":2.76,"y":1.81},{"s":"LOF min","x":2.9,"y":1.92},{"s":"LOF min","x":3.04,"y":2.03},{"s":"LOF min","x":3.17,"y":2.14},{"s":"LOF min","x":3.31,"y":2.26},{"s":"LOF min","x":3.45,"y":2.38},{"s":"LOF min","x":3.59,"y":2.5},{"s":"LOF min","x":3.73,"y":2.62},{"s":"LOF min","x":3.86,"y":2.74},{"s":"LOF min","x":4,"y":2.86},{"s":"LOF min","x":4.14,"y":2.98},{"s":"LOF min","x":4.28,"y":3.1},{"s":"LOF min","x":4.42,"y":3.21},{"s":"LOF min","x":4.55,"y":3.32},{"s":"LOF min","x":4.69,"y":3.42},{"s":"LOF min","x":4.83,"y":3.51},{"s":"LOF min","x":4.97,"y":3.59},{"s":"LOF min","x":5.11,"y":3.66},{"s":"LOF min","x":5.24,"y":3.72},
{"s":"trip max","x":0,"y":-18.4},{"s":"trip max","x":0.14,"y":-13.9},{"s":"trip max","x":0.28,"y":-9.4},{"s":"trip max","x":0.41,"y":-4.9},{"s":"trip max","x":0.55,"y":-0.4},{"s":"trip max","x":0.69,"y":1.1},{"s":"trip max","x":0.83,"y":1.0},{"s":"trip max","x":0.97,"y":0.9},{"s":"trip max","x":1.1,"y":0.82},{"s":"trip max","x":1.24,"y":0.76},{"s":"trip max","x":1.38,"y":0.72},{"s":"trip max","x":1.52,"y":0.69},{"s":"trip max","x":1.66,"y":0.67},{"s":"trip max","x":1.79,"y":0.66},{"s":"trip max","x":1.93,"y":0.65},{"s":"trip max","x":2.07,"y":0.65},{"s":"trip max","x":2.21,"y":0.66},{"s":"trip max","x":2.35,"y":0.68},{"s":"trip max","x":2.48,"y":0.71},{"s":"trip max","x":2.62,"y":0.75},{"s":"trip max","x":2.76,"y":0.79},{"s":"trip max","x":2.9,"y":0.83},{"s":"trip max","x":3.04,"y":0.87},{"s":"trip max","x":3.17,"y":0.91},{"s":"trip max","x":3.31,"y":0.95},{"s":"trip max","x":3.45,"y":0.98},{"s":"trip max","x":3.59,"y":1.01},{"s":"trip max","x":3.73,"y":1.04},{"s":"trip max","x":3.86,"y":1.07},{"s":"trip max","x":4,"y":1.1},{"s":"trip max","x":4.14,"y":1.14},{"s":"trip max","x":4.28,"y":1.19},{"s":"trip max","x":4.42,"y":1.25},{"s":"trip max","x":4.55,"y":1.32},{"s":"trip max","x":4.69,"y":1.4},{"s":"trip max","x":4.83,"y":1.48},{"s":"trip max","x":4.97,"y":1.57},{"s":"trip max","x":5.11,"y":1.65},{"s":"trip max","x":5.24,"y":1.74},
{"s":"trip min","x":0,"y":-21.8},{"s":"trip min","x":0.14,"y":-16.9},{"s":"trip min","x":0.28,"y":-12.0},{"s":"trip min","x":0.41,"y":-7.1},{"s":"trip min","x":0.55,"y":-2.2},{"s":"trip min","x":0.69,"y":-0.2},{"s":"trip min","x":0.83,"y":0.3},{"s":"trip min","x":0.97,"y":0.5},{"s":"trip min","x":1.1,"y":0.62},{"s":"trip min","x":1.24,"y":0.7},{"s":"trip min","x":1.38,"y":0.76},{"s":"trip min","x":1.52,"y":0.82},{"s":"trip min","x":1.66,"y":0.88},{"s":"trip min","x":1.79,"y":0.94},{"s":"trip min","x":1.93,"y":1.0},{"s":"trip min","x":2.07,"y":1.06},{"s":"trip min","x":2.21,"y":1.12},{"s":"trip min","x":2.35,"y":1.19},{"s":"trip min","x":2.48,"y":1.26},{"s":"trip min","x":2.62,"y":1.33},{"s":"trip min","x":2.76,"y":1.4},{"s":"trip min","x":2.9,"y":1.47},{"s":"trip min","x":3.04,"y":1.55},{"s":"trip min","x":3.17,"y":1.63},{"s":"trip min","x":3.31,"y":1.72},{"s":"trip min","x":3.45,"y":1.81},{"s":"trip min","x":3.59,"y":1.9},{"s":"trip min","x":3.73,"y":2.0},{"s":"trip min","x":3.86,"y":2.1},{"s":"trip min","x":4,"y":2.2},{"s":"trip min","x":4.14,"y":2.3},{"s":"trip min","x":4.28,"y":2.4},{"s":"trip min","x":4.42,"y":2.5},{"s":"trip min","x":4.55,"y":2.6},{"s":"trip min","x":4.69,"y":2.7},{"s":"trip min","x":4.83,"y":2.8},{"s":"trip min","x":4.97,"y":2.9},{"s":"trip min","x":5.11,"y":3.0},{"s":"trip min","x":5.24,"y":3.1},
{"s":"roll max","x":0,"y":-12.55},{"s":"roll max","x":0.14,"y":-9.1},{"s":"roll max","x":0.28,"y":-5.7},{"s":"roll max","x":0.41,"y":-2.3},{"s":"roll max","x":0.55,"y":1.2},{"s":"roll max","x":0.69,"y":1.55},{"s":"roll max","x":0.83,"y":1.2},{"s":"roll max","x":0.97,"y":0.85},{"s":"roll max","x":1.1,"y":0.5},{"s":"roll max","x":1.24,"y":0.2},{"s":"roll max","x":1.38,"y":-0.12},{"s":"roll max","x":1.52,"y":-0.54},{"s":"roll max","x":1.66,"y":-0.87},{"s":"roll max","x":1.79,"y":-1.24},{"s":"roll max","x":1.93,"y":-1.6},{"s":"roll max","x":2.07,"y":-1.9},{"s":"roll max","x":2.21,"y":-2.15},{"s":"roll max","x":2.35,"y":-2.4},{"s":"roll max","x":2.48,"y":-2.64},{"s":"roll max","x":2.62,"y":-2.86},{"s":"roll max","x":2.76,"y":-3.06},{"s":"roll max","x":2.9,"y":-3.28},{"s":"roll max","x":3.04,"y":-3.48},{"s":"roll max","x":3.17,"y":-3.68},{"s":"roll max","x":3.31,"y":-3.82},{"s":"roll max","x":3.45,"y":-4.0},{"s":"roll max","x":3.59,"y":-4.16},{"s":"roll max","x":3.73,"y":-4.32},{"s":"roll max","x":3.86,"y":-4.45},{"s":"roll max","x":4,"y":-4.56},{"s":"roll max","x":4.14,"y":-4.64},{"s":"roll max","x":4.28,"y":-4.71},{"s":"roll max","x":4.42,"y":-4.77},{"s":"roll max","x":4.55,"y":-4.82},{"s":"roll max","x":4.69,"y":-4.86},{"s":"roll max","x":4.83,"y":-4.88},{"s":"roll max","x":4.97,"y":-4.9},{"s":"roll max","x":5.11,"y":-4.91},{"s":"roll max","x":5.24,"y":-4.92},
{"s":"roll min","x":0,"y":-21.6},{"s":"roll min","x":0.14,"y":-16.8},{"s":"roll min","x":0.28,"y":-12.0},{"s":"roll min","x":0.41,"y":-7.2},{"s":"roll min","x":0.55,"y":-2.4},{"s":"roll min","x":0.69,"y":-0.3},{"s":"roll min","x":0.83,"y":0.25},{"s":"roll min","x":0.97,"y":0.45},{"s":"roll min","x":1.1,"y":0.57},{"s":"roll min","x":1.24,"y":0.65},{"s":"roll min","x":1.38,"y":0.72},{"s":"roll min","x":1.52,"y":0.78},{"s":"roll min","x":1.66,"y":0.84},{"s":"roll min","x":1.79,"y":0.9},{"s":"roll min","x":1.93,"y":0.96},{"s":"roll min","x":2.07,"y":1.02},{"s":"roll min","x":2.21,"y":1.08},{"s":"roll min","x":2.35,"y":1.14},{"s":"roll min","x":2.48,"y":1.2},{"s":"roll min","x":2.62,"y":1.27},{"s":"roll min","x":2.76,"y":1.34},{"s":"roll min","x":2.9,"y":1.41},{"s":"roll min","x":3.04,"y":1.48},{"s":"roll min","x":3.17,"y":1.55},{"s":"roll min","x":3.31,"y":1.63},{"s":"roll min","x":3.45,"y":1.71},{"s":"roll min","x":3.59,"y":1.8},{"s":"roll min","x":3.73,"y":1.89},{"s":"roll min","x":3.86,"y":1.98},{"s":"roll min","x":4,"y":2.08},{"s":"roll min","x":4.14,"y":2.18},{"s":"roll min","x":4.28,"y":2.28},{"s":"roll min","x":4.42,"y":2.38},{"s":"roll min","x":4.55,"y":2.48},{"s":"roll min","x":4.69,"y":2.58},{"s":"roll min","x":4.83,"y":2.68},{"s":"roll min","x":4.97,"y":2.78},{"s":"roll min","x":5.11,"y":2.88},{"s":"roll min","x":5.24,"y":2.98},
{"s":"lg step max","x":0,"y":-15.8},{"s":"lg step max","x":0.14,"y":-12.2},{"s":"lg step max","x":0.28,"y":-8.1},{"s":"lg step max","x":0.41,"y":-4.0},{"s":"lg step max","x":0.55,"y":0.3},{"s":"lg step max","x":0.69,"y":1.8},{"s":"lg step max","x":0.83,"y":1.55},{"s":"lg step max","x":0.97,"y":1.25},{"s":"lg step max","x":1.1,"y":0.95},{"s":"lg step max","x":1.24,"y":0.65},{"s":"lg step max","x":1.38,"y":0.38},{"s":"lg step max","x":1.52,"y":0.12},{"s":"lg step max","x":1.66,"y":-0.12},{"s":"lg step max","x":1.79,"y":-0.35},{"s":"lg step max","x":1.93,"y":-0.56},{"s":"lg step max","x":2.07,"y":-0.76},{"s":"lg step max","x":2.21,"y":-0.95},{"s":"lg step max","x":2.35,"y":-1.12},{"s":"lg step max","x":2.48,"y":-1.28},{"s":"lg step max","x":2.62,"y":-1.42},{"s":"lg step max","x":2.76,"y":-1.55},{"s":"lg step max","x":2.9,"y":-1.66},{"s":"lg step max","x":3.04,"y":-1.76},{"s":"lg step max","x":3.17,"y":-1.84},{"s":"lg step max","x":3.31,"y":-1.91},{"s":"lg step max","x":3.45,"y":-1.96},{"s":"lg step max","x":3.59,"y":-2.0},{"s":"lg step max","x":3.73,"y":-2.03},{"s":"lg step max","x":3.86,"y":-2.05},{"s":"lg step max","x":4,"y":-2.07},{"s":"lg step max","x":4.14,"y":-2.08},{"s":"lg step max","x":4.28,"y":-2.08},{"s":"lg step max","x":4.42,"y":-2.08},{"s":"lg step max","x":4.55,"y":-2.08},{"s":"lg step max","x":4.69,"y":-2.07},{"s":"lg step max","x":4.83,"y":-2.07},{"s":"lg step max","x":4.97,"y":-2.06},{"s":"lg step max","x":5.11,"y":-2.06},{"s":"lg step max","x":5.24,"y":-2.05},
{"s":"lg step min","x":0,"y":-26.15},{"s":"lg step min","x":0.14,"y":-21.0},{"s":"lg step min","x":0.28,"y":-15.85},{"s":"lg step min","x":0.41,"y":-10.68},{"s":"lg step min","x":0.55,"y":-5.46},{"s":"lg step min","x":0.69,"y":-3.95},{"s":"lg step min","x":0.83,"y":-3.72},{"s":"lg step min","x":0.97,"y":-3.48},{"s":"lg step min","x":1.1,"y":-3.18},{"s":"lg step min","x":1.24,"y":-2.88},{"s":"lg step min","x":1.38,"y":-2.6},{"s":"lg step min","x":1.52,"y":-2.35},{"s":"lg step min","x":1.66,"y":-2.12},{"s":"lg step min","x":1.79,"y":-1.9},{"s":"lg step min","x":1.93,"y":-1.68},{"s":"lg step min","x":2.07,"y":-1.47},{"s":"lg step min","x":2.21,"y":-1.27},{"s":"lg step min","x":2.35,"y":-1.07},{"s":"lg step min","x":2.48,"y":-0.87},{"s":"lg step min","x":2.62,"y":-0.66},{"s":"lg step min","x":2.76,"y":-0.45},{"s":"lg step min","x":2.9,"y":-0.24},{"s":"lg step min","x":3.04,"y":-0.03},{"s":"lg step min","x":3.17,"y":0.18},{"s":"lg step min","x":3.31,"y":0.4},{"s":"lg step min","x":3.45,"y":0.62},{"s":"lg step min","x":3.59,"y":0.84},{"s":"lg step min","x":3.73,"y":1.06},{"s":"lg step min","x":3.86,"y":1.28},{"s":"lg step min","x":4,"y":1.5},{"s":"lg step min","x":4.14,"y":1.72},{"s":"lg step min","x":4.28,"y":1.94},{"s":"lg step min","x":4.42,"y":2.16},{"s":"lg step min","x":4.55,"y":2.38},{"s":"lg step min","x":4.69,"y":2.6},{"s":"lg step min","x":4.83,"y":2.82},{"s":"lg step min","x":4.97,"y":3.04},{"s":"lg step min","x":5.11,"y":3.27},{"s":"lg step min","x":5.24,"y":3.5},
{"s":"hydro max","x":0,"y":-7.1},{"s":"hydro max","x":0.14,"y":-5.46},{"s":"hydro max","x":0.28,"y":-3.75},{"s":"hydro max","x":0.41,"y":-2.0},{"s":"hydro max","x":0.55,"y":-0.4},{"s":"hydro max","x":0.69,"y":0.55},{"s":"hydro max","x":0.83,"y":0.55},{"s":"hydro max","x":0.97,"y":0.5},{"s":"hydro max","x":1.1,"y":0.46},{"s":"hydro max","x":1.24,"y":0.43},{"s":"hydro max","x":1.38,"y":0.4},{"s":"hydro max","x":1.52,"y":0.39},{"s":"hydro max","x":1.66,"y":0.38},{"s":"hydro max","x":1.79,"y":0.38},{"s":"hydro max","x":1.93,"y":0.38},{"s":"hydro max","x":2.07,"y":0.39},{"s":"hydro max","x":2.21,"y":0.4},{"s":"hydro max","x":2.35,"y":0.42},{"s":"hydro max","x":2.48,"y":0.44},{"s":"hydro max","x":2.62,"y":0.47},{"s":"hydro max","x":2.76,"y":0.5},{"s":"hydro max","x":2.9,"y":0.54},{"s":"hydro max","x":3.04,"y":0.58},{"s":"hydro max","x":3.17,"y":0.62},{"s":"hydro max","x":3.31,"y":0.67},{"s":"hydro max","x":3.45,"y":0.72},{"s":"hydro max","x":3.59,"y":0.77},{"s":"hydro max","x":3.73,"y":0.82},{"s":"hydro max","x":3.86,"y":0.87},{"s":"hydro max","x":4,"y":0.92},{"s":"hydro max","x":4.14,"y":0.96},{"s":"hydro max","x":4.28,"y":1.0},{"s":"hydro max","x":4.42,"y":1.04},{"s":"hydro max","x":4.55,"y":1.07},{"s":"hydro max","x":4.69,"y":1.1},{"s":"hydro max","x":4.83,"y":1.13},{"s":"hydro max","x":4.97,"y":1.16},{"s":"hydro max","x":5.11,"y":1.18},{"s":"hydro max","x":5.24,"y":1.2},
{"s":"hydro min","x":0,"y":-19.0},{"s":"hydro min","x":0.14,"y":-14.4},{"s":"hydro min","x":0.28,"y":-9.93},{"s":"hydro min","x":0.41,"y":-5.34},{"s":"hydro min","x":0.55,"y":-0.75},{"s":"hydro min","x":0.69,"y":0.45},{"s":"hydro min","x":0.83,"y":0.5},{"s":"hydro min","x":0.97,"y":0.52},{"s":"hydro min","x":1.1,"y":0.56},{"s":"hydro min","x":1.24,"y":0.62},{"s":"hydro min","x":1.38,"y":0.72},{"s":"hydro min","x":1.52,"y":0.82},{"s":"hydro min","x":1.66,"y":0.9},{"s":"hydro min","x":1.79,"y":0.98},{"s":"hydro min","x":1.93,"y":1.05},{"s":"hydro min","x":2.07,"y":1.11},{"s":"hydro min","x":2.21,"y":1.17},{"s":"hydro min","x":2.35,"y":1.23},{"s":"hydro min","x":2.48,"y":1.3},{"s":"hydro min","x":2.62,"y":1.36},{"s":"hydro min","x":2.76,"y":1.42},{"s":"hydro min","x":2.9,"y":1.49},{"s":"hydro min","x":3.04,"y":1.56},{"s":"hydro min","x":3.17,"y":1.64},{"s":"hydro min","x":3.31,"y":1.74},{"s":"hydro min","x":3.45,"y":1.86},{"s":"hydro min","x":3.59,"y":1.99},{"s":"hydro min","x":3.73,"y":2.11},{"s":"hydro min","x":3.86,"y":2.24},{"s":"hydro min","x":4,"y":2.36},{"s":"hydro min","x":4.14,"y":2.47},{"s":"hydro min","x":4.28,"y":2.56},{"s":"hydro min","x":4.42,"y":2.65},{"s":"hydro min","x":4.55,"y":2.73},{"s":"hydro min","x":4.69,"y":2.81},{"s":"hydro min","x":4.83,"y":2.9},{"s":"hydro min","x":4.97,"y":2.98},{"s":"hydro min","x":5.11,"y":3.05},{"s":"hydro min","x":5.24,"y":3.1},
{"s":"residual","x":0,"y":8.0},{"s":"residual","x":0.14,"y":7.85},{"s":"residual","x":0.28,"y":7.5},{"s":"residual","x":0.41,"y":6.95},{"s":"residual","x":0.55,"y":6.2},{"s":"residual","x":0.69,"y":5.27},{"s":"residual","x":0.83,"y":4.17},{"s":"residual","x":0.97,"y":3.03},{"s":"residual","x":1.1,"y":1.86},{"s":"residual","x":1.24,"y":0.6},{"s":"residual","x":1.38,"y":-0.7},{"s":"residual","x":1.52,"y":-1.99},{"s":"residual","x":1.66,"y":-3.28},{"s":"residual","x":1.79,"y":-4.47},{"s":"residual","x":1.93,"y":-5.46},{"s":"residual","x":2.07,"y":-6.46},{"s":"residual","x":2.21,"y":-7.15},{"s":"residual","x":2.35,"y":-7.62},{"s":"residual","x":2.48,"y":-7.95},{"s":"residual","x":2.62,"y":-8.07},{"s":"residual","x":2.76,"y":-7.95},{"s":"residual","x":2.9,"y":-7.65},{"s":"residual","x":3.04,"y":-7.15},{"s":"residual","x":3.17,"y":-6.46},{"s":"residual","x":3.31,"y":-5.55},{"s":"residual","x":3.45,"y":-4.5},{"s":"residual","x":3.59,"y":-3.3},{"s":"residual","x":3.73,"y":-2.05},{"s":"residual","x":3.86,"y":-0.8},{"s":"residual","x":4,"y":0.5},{"s":"residual","x":4.14,"y":1.86},{"s":"residual","x":4.28,"y":3.1},{"s":"residual","x":4.42,"y":4.22},{"s":"residual","x":4.55,"y":5.27},{"s":"residual","x":4.69,"y":6.16},{"s":"residual","x":4.83,"y":6.88},{"s":"residual","x":4.97,"y":7.45},{"s":"residual","x":5.11,"y":7.82},{"s":"residual","x":5.24,"y":7.95}
  ]},
  "encoding": {
    "x": {"field": "x", "type": "quantitative", "scale": {"domain": [0, 6], "nice": false, "zero": false},
      "axis": {"values": [0, 1, 2, 3, 4, 5, 6], "grid": false, "domainColor": "#868686", "tickColor": "#868686", "tickSize": 5, "labelFont": "Lato", "labelFontSize": 15, "labelColor": "#000000", "labelPadding": 8, "labelFlush": false,
        "title": "Distance from Inside Surface (Inches)", "titleFont": "Lato", "titleFontSize": 19, "titleFontWeight": "bold", "titleColor": "#000000", "titleX": 465, "titleY": 59, "titleBaseline": "middle"}},
    "y": {"field": "y", "type": "quantitative", "scale": {"domain": [-30, 15], "nice": false, "zero": false},
      "axis": {"values": [-30, -25, -20, -15, -10, -5, 0, 5, 10, 15], "labelExpr": "'' + datum.value", "grid": true, "gridColor": "#868686", "gridWidth": 1, "domainColor": "#868686", "tickColor": "#868686", "tickSize": 5, "labelFont": "Lato", "labelFontSize": 15, "labelColor": "#000000", "labelPadding": 11,
        "title": "Stress (ksi)", "titleFont": "Lato", "titleFontSize": 18, "titleFontWeight": "bold", "titleColor": "#000000", "titleX": -60, "titleY": 302, "titleAngle": 270, "titleBaseline": "middle"}}
  },
  "layer": [
    {
      "mark": {"type": "line", "strokeWidth": 2.7, "strokeJoin": "round", "strokeCap": "round"},
      "encoding": {
        "stroke": {"field": "s", "type": "nominal",
          "scale": {"domain": ["press","hu max","hu min","cd max","cd min","load max","load min","unload max","unload min","step up max","step up min","step down max","step down min","cyc max","cyc min","LOL max","LOL min","LOP max","LOP min","LOF max","LOF min","trip max","trip min","roll max","roll min","lg step max","lg step min","hydro max","hydro min","residual"],
            "range": ["#3C6495","#8E3835","#728F3B","#5C4777","#2F8097","#BB6A2C","#4672AE","#B04845","#8AAA4E","#715694","#3C9AB4","#DA8438","#4A7EBB","#BE4B48","#98B954","#7D5FA0","#4BACC6","#F79646","#6F90CB","#C96E6C","#A9C46D","#9985B5","#6BB9CE","#F8A66A","#A0B2D6","#D5A09E","#C0D39E","#B2A5C8","#98CADB","#F9C19E"]},
          "legend": {"title": null, "orient": "none", "legendX": 796.5, "legendY": 29, "symbolSize": 30, "symbolStrokeWidth": 2.5, "symbolOpacity": 1, "labelFont": "Lato", "labelFontSize": 10.5, "labelColor": "#000000", "labelOffset": 5, "rowPadding": 4.43, "symbolLimit": 40,
            "encode": {"symbols": {"update": {"shape": {"signal": "'M-4.5,0H4.5' + scale('shape', datum.value)"}}}}}}
      }
    },
    {
      "mark": {"type": "point", "filled": true, "size": 55, "strokeWidth": 1.4, "opacity": 1},
      "encoding": {
        "fill": {"field": "s", "type": "nominal",
          "scale": {"domain": ["press","hu max","hu min","cd max","cd min","load max","load min","unload max","unload min","step up max","step up min","step down max","step down min","cyc max","cyc min","LOL max","LOL min","LOP max","LOP min","LOF max","LOF min","trip max","trip min","roll max","roll min","lg step max","lg step min","hydro max","hydro min","residual"],
            "range": ["#3C6495","#8E3835","#728F3B","#5C4777","#2F8097","#BB6A2C","#4672AE","#B04845","#8AAA4E","#715694","#3C9AB4","#DA8438","#4A7EBB","#BE4B48","#98B954","#7D5FA0","#4BACC6","#F79646","#6F90CB","#C96E6C","#A9C46D","#9985B5","#6BB9CE","#F8A66A","#A0B2D6","#D5A09E","#C0D39E","#B2A5C8","#98CADB","#F9C19E"]},
          "legend": {"title": null, "orient": "none", "legendX": 796.5, "legendY": 29, "symbolSize": 30, "symbolStrokeWidth": 2.5, "symbolOpacity": 1, "labelFont": "Lato", "labelFontSize": 10.5, "labelColor": "#000000", "labelOffset": 5, "rowPadding": 4.43, "symbolLimit": 40,
            "encode": {"symbols": {"update": {"shape": {"signal": "'M-4.5,0H4.5' + scale('shape', datum.value)"}}}}}},
        "stroke": {"field": "s", "type": "nominal",
          "scale": {"domain": ["press","hu max","hu min","cd max","cd min","load max","load min","unload max","unload min","step up max","step up min","step down max","step down min","cyc max","cyc min","LOL max","LOL min","LOP max","LOP min","LOF max","LOF min","trip max","trip min","roll max","roll min","lg step max","lg step min","hydro max","hydro min","residual"],
            "range": ["#3C6495","#8E3835","#728F3B","#5C4777","#2F8097","#BB6A2C","#4672AE","#B04845","#8AAA4E","#715694","#3C9AB4","#DA8438","#4A7EBB","#BE4B48","#98B954","#7D5FA0","#4BACC6","#F79646","#6F90CB","#C96E6C","#A9C46D","#9985B5","#6BB9CE","#F8A66A","#A0B2D6","#D5A09E","#C0D39E","#B2A5C8","#98CADB","#F9C19E"]},
          "legend": {"title": null, "orient": "none", "legendX": 796.5, "legendY": 29, "symbolSize": 30, "symbolStrokeWidth": 2.5, "symbolOpacity": 1, "labelFont": "Lato", "labelFontSize": 10.5, "labelColor": "#000000", "labelOffset": 5, "rowPadding": 4.43, "symbolLimit": 40,
            "encode": {"symbols": {"update": {"shape": {"signal": "'M-4.5,0H4.5' + scale('shape', datum.value)"}}}}}},
        "shape": {"field": "s", "type": "nominal", "legend": null,
          "scale": {"domain": ["residual","hydro min","hydro max","lg step min","lg step max","roll min","roll max","trip min","trip max","LOF min","LOF max","LOP min","LOP max","LOL min","LOL max","cyc min","cyc max","step down min","step down max","step up min","step up max","unload min","unload max","load min","load max","cd min","cd max","hu min","hu max","press"],
            "range": [
              "M0,-1.25L1.15,0.9H-1.15Z", "M-1,-1H1V1H-1Z", "M0,-1.3L1.3,0L0,1.3L-1.3,0Z", "M-0.7,-0.35H0.7V0.35H-0.7Z", "M-1.1,-0.35H1.1V0.35H-1.1Z", "M-1.2,0H1.2M0,-1.2V1.2", "M1,0A1,1,0,1,1,-1,0A1,1,0,1,1,1,0Z", "M-1,-1L1,1M-1,1L1,-1M0,-1.25V1.25", "M-1,-1L1,1M-1,1L1,-1",
              "M0,-1.25L1.15,0.9H-1.15Z", "M-1,-1H1V1H-1Z", "M0,-1.3L1.3,0L0,1.3L-1.3,0Z", "M-0.7,-0.35H0.7V0.35H-0.7Z", "M-1.1,-0.35H1.1V0.35H-1.1Z", "M-1.2,0H1.2M0,-1.2V1.2", "M1,0A1,1,0,1,1,-1,0A1,1,0,1,1,1,0Z", "M-1,-1L1,1M-1,1L1,-1M0,-1.25V1.25", "M-1,-1L1,1M-1,1L1,-1",
              "M0,-1.25L1.15,0.9H-1.15Z", "M-1,-1H1V1H-1Z", "M0,-1.3L1.3,0L0,1.3L-1.3,0Z", "M-0.7,-0.35H0.7V0.35H-0.7Z", "M-1.1,-0.35H1.1V0.35H-1.1Z", "M-1.2,0H1.2M0,-1.2V1.2", "M1,0A1,1,0,1,1,-1,0A1,1,0,1,1,1,0Z", "M-1,-1L1,1M-1,1L1,-1M0,-1.25V1.25", "M-1,-1L1,1M-1,1L1,-1",
              "M0,-1.25L1.15,0.9H-1.15Z", "M-1,-1H1V1H-1Z", "M0,-1.3L1.3,0L0,1.3L-1.3,0Z"]}}
      }
    }
  ]
}
